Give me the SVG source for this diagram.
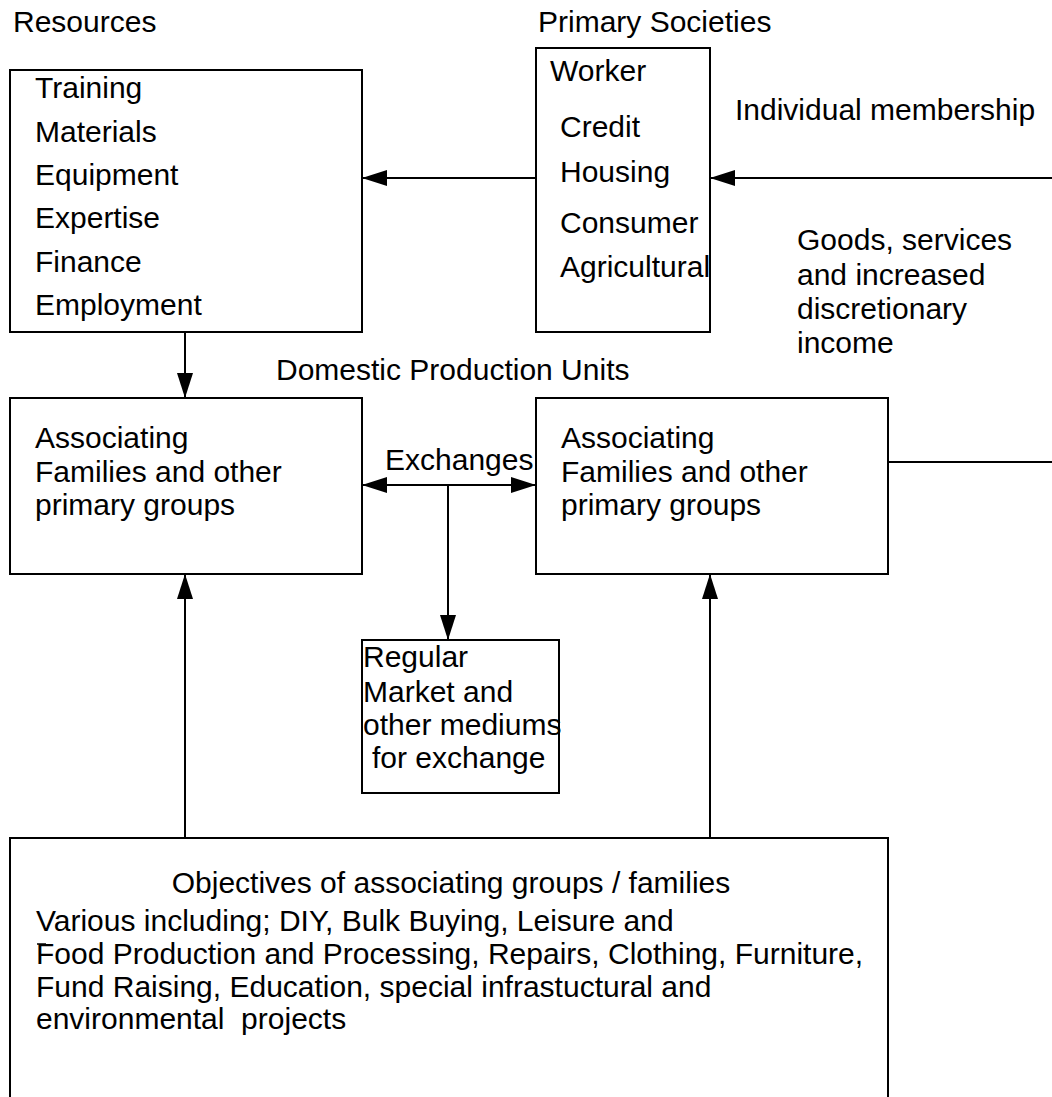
<svg xmlns="http://www.w3.org/2000/svg" width="1052" height="1097" viewBox="0 0 1052 1097">
<style>
.box{fill:#fff;stroke:#000;stroke-width:2}
.t{font-family:"Liberation Sans",Arial,sans-serif;font-size:30px;fill:#000}
.c{stroke:#000;stroke-width:2;fill:none}
</style>
<defs>
<marker id="ah" markerWidth="26" markerHeight="18" refX="25" refY="8" orient="auto" markerUnits="userSpaceOnUse" viewBox="0 0 26 18">
<path d="M0,0 L25,8 L0,16 Z" fill="#000"/>
</marker>
<marker id="ahs" markerWidth="26" markerHeight="18" refX="25" refY="8" orient="auto-start-reverse" markerUnits="userSpaceOnUse" viewBox="0 0 26 18">
<path d="M0,0 L25,8 L0,16 Z" fill="#000"/>
</marker>
</defs>
<rect width="1052" height="1097" fill="#fff"/>

<text class="t" x="13" y="32">Resources</text>
<text class="t" x="538" y="32">Primary Societies</text>
<text class="t" x="276" y="380">Domestic Production Units</text>
<text class="t" x="735" y="120">Individual membership</text>
<g id="goods-label">
<text class="t" x="797" y="250">Goods, services</text>
<text class="t" x="797" y="285">and increased</text>
<text class="t" x="797" y="319">discretionary</text>
<text class="t" x="797" y="353">income</text>
</g>

<g id="resources">
<rect class="box" x="10" y="70" width="352" height="262"/>
<text class="t" x="35" y="98">Training</text>
<text class="t" x="35" y="142">Materials</text>
<text class="t" x="35" y="185">Equipment</text>
<text class="t" x="35" y="228">Expertise</text>
<text class="t" x="35" y="272">Finance</text>
<text class="t" x="35" y="315">Employment</text>
</g>

<g id="primary-societies">
<rect class="box" x="536" y="48" width="174" height="284"/>
<text class="t" x="550" y="81">Worker</text>
<text class="t" x="560" y="137">Credit</text>
<text class="t" x="560" y="182">Housing</text>
<text class="t" x="560" y="233">Consumer</text>
<text class="t" x="560" y="277">Agricultural</text>
</g>

<g id="assoc-left">
<rect class="box" x="10" y="398" width="352" height="176"/>
<text class="t" x="35" y="448">Associating</text>
<text class="t" x="35" y="482">Families and other</text>
<text class="t" x="35" y="515">primary groups</text>
</g>

<g id="assoc-right">
<rect class="box" x="536" y="398" width="352" height="176"/>
<text class="t" x="561" y="448">Associating</text>
<text class="t" x="561" y="482">Families and other</text>
<text class="t" x="561" y="515">primary groups</text>
</g>

<g id="market">
<rect class="box" x="362" y="640" width="197" height="153"/>
<text class="t" x="363" y="667">Regular</text>
<text class="t" x="363" y="702">Market and</text>
<text class="t" x="363" y="735">other mediums</text>
<text class="t" x="372" y="768">for exchange</text>
</g>

<g id="objectives">
<rect class="box" x="10" y="838" width="878" height="280"/>
<text class="t" x="451" y="893" text-anchor="middle">Objectives of associating groups / families</text>
<text class="t" x="36" y="931">Various including; DIY, Bulk Buying, Leisure and</text>
<text class="t" x="36" y="964">Food Production and Processing, Repairs, Clothing, Furniture,</text>
<text class="t" x="36" y="997">Fund Raising, Education, special infrastuctural and</text>
<text class="t" x="36" y="1029" xml:space="preserve">environmental  projects</text>
<line x1="37" y1="944" x2="46" y2="944" stroke="#000" stroke-width="1.5"/>
</g>

<g id="connectors">
<line class="c" x1="1052" y1="178" x2="710" y2="178" marker-end="url(#ah)"/>
<line class="c" x1="536" y1="178" x2="362" y2="178" marker-end="url(#ah)"/>
<line class="c" x1="185" y1="332" x2="185" y2="398" marker-end="url(#ah)"/>
<line class="c" x1="362" y1="485" x2="536" y2="485" marker-start="url(#ahs)" marker-end="url(#ah)"/>
<line class="c" x1="448" y1="485" x2="448" y2="640" marker-end="url(#ah)"/>
<line class="c" x1="185" y1="838" x2="185" y2="574" marker-end="url(#ah)"/>
<line class="c" x1="710" y1="838" x2="710" y2="574" marker-end="url(#ah)"/>
<line class="c" x1="888" y1="462" x2="1052" y2="462"/>
</g>
<text class="t" x="385" y="470">Exchanges</text>
</svg>
